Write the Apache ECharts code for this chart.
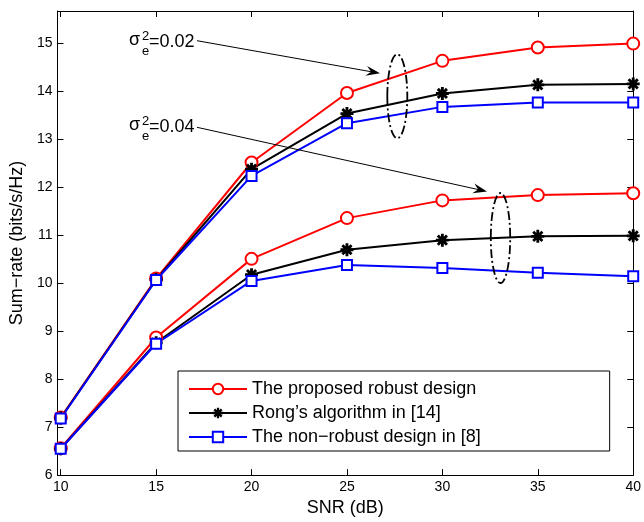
<!DOCTYPE html>
<html><head><meta charset="utf-8">
<script src="https://cdn.jsdelivr.net/npm/echarts@6/dist/echarts.min.js"></script>
<style>html,body{margin:0;padding:0;background:#fff}#c{width:644px;height:522px}</style>
</head><body><div id="c"></div>
<script>
const snr = [10, 15, 20, 25, 30, 35, 40];
const xTicks = [10, 15, 20, 25, 30, 35, 40];
const yTicks = [6, 7, 8, 9, 10, 11, 12, 13, 14, 15];
const proposed002 = [7.20, 10.10, 12.52, 13.97, 14.64, 14.92, 15.00];
const rong002     = [7.19, 10.08, 12.38, 13.54, 13.96, 14.14, 14.16];
const nonrob002   = [7.18, 10.07, 12.24, 13.34, 13.68, 13.77, 13.77];
const proposed004 = [6.56, 8.87, 10.51, 11.36, 11.73, 11.84, 11.88];
const rong004     = [6.55, 8.76, 10.18, 10.70, 10.90, 10.98, 10.99];
const nonrob004   = [6.55, 8.74, 10.05, 10.38, 10.32, 10.22, 10.15];
const names = ['The proposed robust design', "Rong\u2019s algorithm in [14]", 'The non\u2212robust design in [8]'];

const FONT = "'Liberation Sans', Arial, sans-serif";
const star = 'path://M0 7.8L20 7.8L20 12.2L0 12.2Z M7.8 0L12.2 0L12.2 20L7.8 20Z M4.49 1.38L18.62 15.51L15.51 18.62L1.38 4.49Z M4.49 18.62L1.38 15.51L15.51 1.38L18.62 4.49Z';

function mk(name, data, color, symbol, size) {
  return {
    name: name, type: 'line', data: snr.map((x, i) => [x, data[i]]),
    symbol: symbol, symbolSize: size, showAllSymbol: true,
    lineStyle: { color: color, width: 2 },
    itemStyle: symbol === star ? { color: color, borderWidth: 0 } : { color: color, borderWidth: 2 },
    emphasis: { disabled: true }, animation: false
  };
}

const chart = echarts.init(document.getElementById('c'));

function arrow(x1, y1, x2, y2) {
  const dx = x2 - x1, dy = y2 - y1, L = Math.hypot(dx, dy);
  const ux = dx / L, uy = dy / L, nx = -uy, ny = ux;
  const hl = 14, hw = 5, notch = 9;
  return [
    { type: 'line', shape: { x1: x1, y1: y1, x2: x2 - ux * notch, y2: y2 - uy * notch }, style: { stroke: '#000', lineWidth: 1 }, z: 100 },
    { type: 'polygon', shape: { points: [[x2, y2], [x2 - ux * hl + nx * hw, y2 - uy * hl + ny * hw], [x2 - ux * notch, y2 - uy * notch], [x2 - ux * hl - nx * hw, y2 - uy * hl - ny * hw]] }, style: { fill: '#000' }, z: 100 }
  ];
}
function sigma(x, baseY, val) {
  return [
    { type: 'text', x: x, y: baseY, style: { text: '\u03c3', font: '18px ' + FONT, fill: '#000', verticalAlign: 'bottom' }, z: 100 },
    { type: 'text', x: x + 13, y: baseY - 6, style: { text: '2', font: '13px ' + FONT, fill: '#000', verticalAlign: 'bottom' }, z: 100 },
    { type: 'text', x: x + 13, y: baseY + 9, style: { text: 'e', font: '13px ' + FONT, fill: '#000', verticalAlign: 'bottom' }, z: 100 },
    { type: 'text', x: x + 20, y: baseY + 2, style: { text: '=' + val, font: '18px ' + FONT, fill: '#000', verticalAlign: 'bottom' }, z: 100 }
  ];
}
const dash = [9, 3, 2, 3];
const graphics = [].concat(
  sigma(129, 49, '0.02'), sigma(129, 134, '0.04'),
  arrow(197, 40.7, 380, 73.3), arrow(197, 127.3, 487, 191.5),
  [
    { type: 'ellipse', shape: { cx: 397.3, cy: 96.3, rx: 10, ry: 42 }, style: { fill: 'none', stroke: '#000', lineWidth: 1.8, lineDash: dash }, z: 100 },
    { type: 'ellipse', shape: { cx: 500.5, cy: 238, rx: 9.7, ry: 45 }, style: { fill: 'none', stroke: '#000', lineWidth: 1.8, lineDash: dash }, z: 100 }
  ]
);

const axisCommon = {
  type: 'value', min: 9.83, max: 40,
  axisLine: { show: true, onZero: false, lineStyle: { color: '#000', width: 1 } },
  splitLine: { show: false }
};

chart.setOption({
  backgroundColor: '#fff',
  animation: false,
  grid: { left: 56.7, right: 6.3, top: 11, bottom: 40.3, containLabel: false },
  legend: {
    orient: 'vertical', left: 178, top: 371,
    data: names,
    itemWidth: 58, itemHeight: 13, itemGap: 6,
    padding: [9, 129, 5, 10],
    borderColor: '#000', borderWidth: 1, backgroundColor: '#fff',
    textStyle: { fontFamily: FONT, fontSize: 18, color: '#000' },
    selectedMode: false
  },
  xAxis: [
    Object.assign({}, axisCommon, {
      position: 'bottom',
      name: 'SNR (dB)', nameLocation: 'middle', nameGap: 22,
      nameTextStyle: { fontFamily: FONT, fontSize: 18, color: '#000' },
      axisTick: { show: true, inside: true, length: 6, customValues: xTicks, lineStyle: { color: '#000' } },
      axisLabel: { customValues: xTicks, fontFamily: FONT, fontSize: 14, color: '#000', margin: 5 }
    }),
    Object.assign({}, axisCommon, {
      position: 'top',
      axisTick: { show: true, inside: true, length: 6, customValues: xTicks, lineStyle: { color: '#000' } },
      axisLabel: { show: false }
    })
  ],
  yAxis: [
    {
      type: 'value', min: 6, max: 15.68, position: 'left',
      axisLine: { show: true, onZero: false, lineStyle: { color: '#000', width: 1 } },
      splitLine: { show: false },
      name: 'Sum\u2212rate (bits/s/Hz)', nameLocation: 'middle', nameGap: 28, nameRotate: 90,
      nameTextStyle: { fontFamily: FONT, fontSize: 18, color: '#000' },
      axisTick: { show: true, inside: true, length: 6, customValues: yTicks, lineStyle: { color: '#000' } },
      axisLabel: { customValues: yTicks, fontFamily: FONT, fontSize: 14, color: '#000', margin: 5 }
    },
    {
      type: 'value', min: 6, max: 15.68, position: 'right',
      axisLine: { show: true, onZero: false, lineStyle: { color: '#000', width: 1 } },
      splitLine: { show: false },
      axisTick: { show: true, inside: true, length: 6, customValues: yTicks, lineStyle: { color: '#000' } },
      axisLabel: { show: false }
    }
  ],
  series: [
    mk(names[0], proposed002, '#ff0000', 'emptyCircle', 12),
    mk(names[1], rong002, '#000000', star, 13),
    mk(names[2], nonrob002, '#0000ff', 'emptyRect', 10),
    mk(names[0], proposed004, '#ff0000', 'emptyCircle', 12),
    mk(names[1], rong004, '#000000', star, 13),
    mk(names[2], nonrob004, '#0000ff', 'emptyRect', 10)
  ],
  graphic: graphics
});
</script>
</body></html>
